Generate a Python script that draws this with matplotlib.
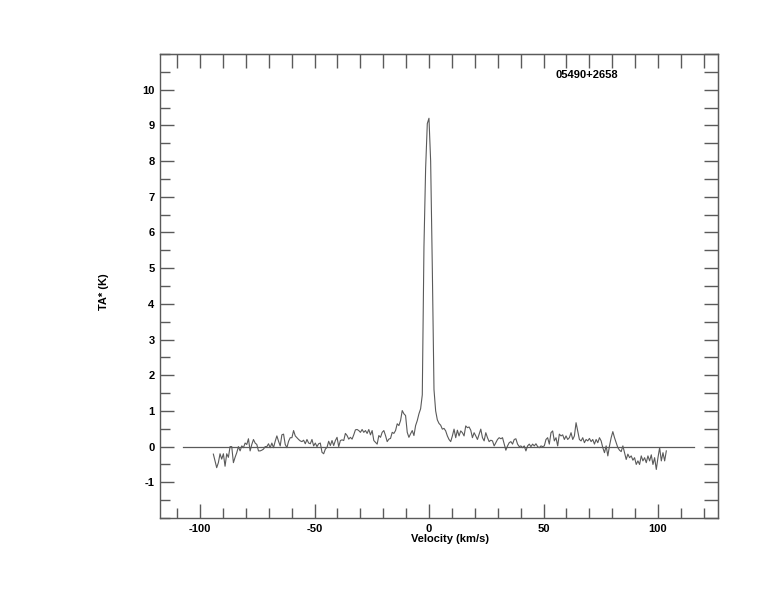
import numpy as np
import matplotlib
matplotlib.use("Agg")
import matplotlib.pyplot as plt
from matplotlib.ticker import MultipleLocator, NullFormatter

# spectrum of 05490+2658, channels 0.73 km/s wide starting at -94.2 km/s
v_start = -94.2
dv = 0.73

# channels -94.2 .. -47.5
ta_blue_wing = [-0.21, -0.40, -0.59, -0.45, -0.20, -0.35, -0.20, -0.55, -0.20, -0.30,
                0.00, 0.00, -0.45, -0.30, -0.17, 0.00, -0.12, 0.02, -0.03, 0.10,
                0.06, 0.22, -0.12, 0.06, 0.20, 0.10, 0.06, -0.12, -0.12, -0.10,
                -0.07, 0.00, 0.00, 0.08, -0.03, 0.10, -0.03, 0.15, 0.30, 0.15,
                0.02, 0.33, 0.35, 0.06, -0.03, 0.15, 0.25, 0.25, 0.45, 0.30,
                0.25, 0.20, 0.16, 0.14, 0.18, 0.08, 0.20, 0.10, 0.08, 0.20,
                0.02, 0.10, 0.00, 0.08, 0.10]
# channels -46.8 .. -3.7
ta_inner_blue = [-0.16, -0.20, -0.07, -0.02, 0.15, 0.03, 0.17, 0.03, 0.17, 0.26,
                 0.00, 0.17, 0.19, 0.17, 0.37, 0.31, 0.21, 0.26, 0.21, 0.33,
                 0.47, 0.48, 0.45, 0.40, 0.48, 0.40, 0.45, 0.37, 0.48, 0.33,
                 0.45, 0.17, 0.12, 0.07, 0.31, 0.26, 0.40, 0.45, 0.31, 0.14,
                 0.21, 0.23, 0.40, 0.37, 0.45, 0.64, 0.59, 0.73, 1.01, 0.92,
                 0.87, 0.40, 0.26, 0.36, 0.45, 0.31, 0.59, 0.73, 0.92, 1.06]
# channels -3.0 .. 4.4 (the line)
ta_line = [1.45, 5.6, 7.8, 9.05, 9.2, 8.0, 5.0, 1.6, 1.0, 0.75, 0.65]
# channels 5.1 .. 50.3
ta_inner_red = [0.60, 0.49, 0.51, 0.44, 0.30, 0.20, 0.14, 0.30, 0.49, 0.25,
                0.46, 0.30, 0.44, 0.39, 0.30, 0.58, 0.53, 0.55, 0.46, 0.25,
                0.39, 0.30, 0.20, 0.35, 0.49, 0.25, 0.16, 0.39, 0.25, 0.14,
                0.18, 0.16, 0.02, 0.11, 0.20, 0.25, 0.22, 0.25, 0.07, -0.10,
                0.02, 0.11, 0.14, 0.07, 0.20, 0.22, 0.07, 0.00, 0.02, -0.03,
                0.02, -0.12, 0.02, 0.07, 0.00, 0.07, 0.02, 0.08, 0.00, -0.03,
                0.02, 0.00, 0.02]
# channels 51.1 .. 103.6
ta_red_wing = [0.20, 0.25, 0.07, 0.39, 0.44, 0.16, 0.25, 0.02, 0.35, 0.30,
               0.33, 0.20, 0.30, 0.20, 0.25, 0.39, 0.20, 0.30, 0.67, 0.44,
               0.20, 0.16, 0.25, 0.11, 0.20, 0.16, 0.23, 0.14, 0.20, 0.07,
               0.20, 0.11, 0.25, 0.16, -0.03, -0.17, 0.02, -0.26, 0.02, 0.25,
               0.42, 0.25, 0.11, -0.03, -0.10, -0.14, 0.02, -0.17, -0.36, -0.21,
               -0.31, -0.26, -0.38, -0.31, -0.50, -0.40, -0.50, -0.26, -0.40, -0.31,
               -0.45, -0.26, -0.40, -0.23, -0.50, -0.31, -0.64, -0.31, -0.03, -0.40,
               -0.17, -0.40, -0.12]

ta = np.array(ta_blue_wing + ta_inner_blue + ta_line + ta_inner_red + ta_red_wing)
vel = v_start + dv * np.arange(len(ta))

baseline_range = [-107.5, 115.5]
source_name = "05490+2658"

gray = "#5a5a5a"
plt.rcParams['font.family'] = ['Liberation Sans', 'DejaVu Sans']
plt.rcParams['font.weight'] = 'bold'
plt.rcParams['axes.unicode_minus'] = False

fig = plt.figure(figsize=(7.74, 6.12), dpi=100)
ax = fig.add_axes([160/774, 1-518/612, 558/774, 464/612])

ax.plot(vel, ta, color=gray, lw=0.8)
ax.plot(baseline_range, [0, 0], color=gray, lw=0.9)

ax.set_xlim(-117.5, 126.2)
ax.set_ylim(-2, 11)

for s in ax.spines.values():
    s.set_color(gray)
    s.set_linewidth(1.0)

ax.xaxis.set_major_locator(MultipleLocator(50))
ax.xaxis.set_minor_locator(MultipleLocator(10))
ax.yaxis.set_major_locator(MultipleLocator(1))
ax.yaxis.set_minor_locator(MultipleLocator(0.5))
ax.set_yticks(np.arange(-1, 11, 1))
ax.tick_params(which='both', direction='in', color=gray, width=1.0,
               top=False, right=False, labelsize=8, pad=4)
ax.tick_params(which='major', length=10)
ax.tick_params(which='minor', length=7)

# top and right: every tick the same length
top = ax.secondary_xaxis('top')
top.xaxis.set_major_locator(MultipleLocator(10))
top.xaxis.set_major_formatter(NullFormatter())
top.tick_params(direction='in', length=10, width=1.0, color=gray)
top.spines['top'].set_color(gray)
right = ax.secondary_yaxis('right')
right.yaxis.set_major_locator(MultipleLocator(0.5))
right.yaxis.set_major_formatter(NullFormatter())
right.tick_params(direction='in', length=10, width=1.0, color=gray)
right.spines['right'].set_color(gray)

for lab in ax.get_xticklabels() + ax.get_yticklabels():
    lab.set_fontweight('bold')

ax.set_xlabel("Velocity (km/s)", fontsize=8, fontweight='bold')
ax.set_ylabel("TA* (K)", fontsize=8, fontweight='bold')
ax.xaxis.set_label_coords(0.52, -0.035)
ax.yaxis.set_label_coords(-0.092, 0.488)

ax.text(0.765, 0.955, source_name, transform=ax.transAxes, fontsize=8,
        fontweight='bold', ha='center', va='center')

fig.savefig("out.png", dpi=100)
